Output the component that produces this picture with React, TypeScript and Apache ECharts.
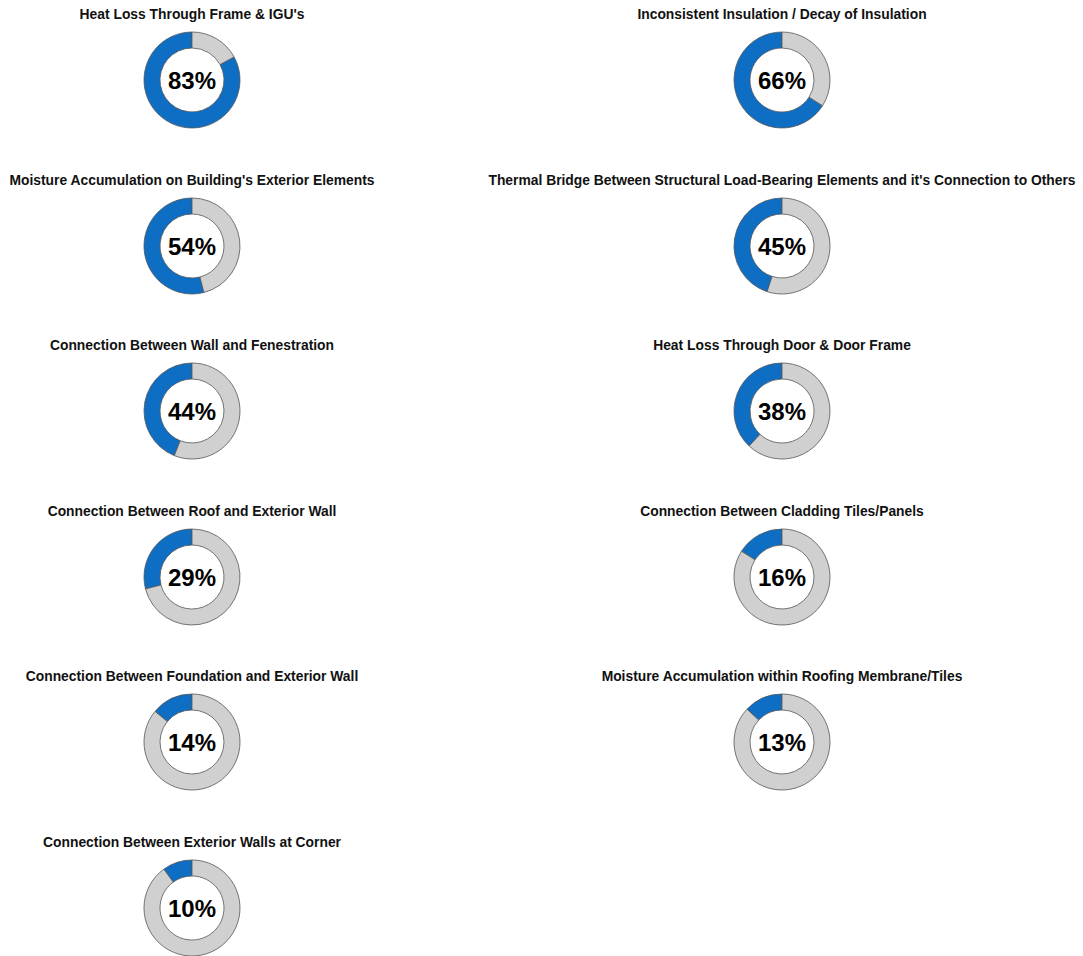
import React, { useEffect, useRef } from "react";
import * as echarts from "echarts";

const titles: string[] = [
  "Heat Loss Through Frame & IGU's",
  "Inconsistent Insulation / Decay of Insulation",
  "Moisture Accumulation on Building's Exterior Elements",
  "Thermal Bridge Between Structural Load-Bearing Elements and it's Connection to Others",
  "Connection Between Wall and Fenestration",
  "Heat Loss Through Door & Door Frame",
  "Connection Between Roof and Exterior Wall",
  "Connection Between Cladding Tiles/Panels",
  "Connection Between Foundation and Exterior Wall",
  "Moisture Accumulation within Roofing Membrane/Tiles",
  "Connection Between Exterior Walls at Corner",
];

const percents: number[] = [83, 66, 54, 45, 44, 38, 29, 16, 14, 13, 10];

const colX = [192, 782];
const rowY = [80, 246, 411, 577, 742, 908];

export default function App() {
  const ref = useRef<HTMLDivElement>(null);
  useEffect(() => {
    document.body.style.margin = "0";
    const chart = echarts.init(ref.current!, null, { renderer: "svg" });
    const title: any[] = [];
    const series: any[] = [];
    percents.forEach((p, i) => {
      const cx = colX[i % 2];
      const cy = rowY[Math.floor(i / 2)];
      title.push({
        text: titles[i],
        left: cx,
        top: cy - 73,
        padding: 0,
        textAlign: "center",
        textStyle: {
          fontFamily: "Liberation Sans, Arial, sans-serif",
          fontSize: 13.85,
          fontWeight: "bold",
          color: "#111",
        },
      });
      series.push({
        type: "pie",
        center: [cx, cy],
        radius: [32, 48],
        startAngle: 90,
        clockwise: false,
        silent: true,
        labelLine: { show: false },
        itemStyle: { borderColor: "#555555", borderWidth: 0.8 },
        data: [
          {
            value: p,
            itemStyle: { color: "#0d6ec4" },
            label: {
              show: true,
              position: "center",
              formatter: "{c}%",
              fontFamily: "Liberation Sans, Arial, sans-serif",
              fontSize: 24,
              fontWeight: "bold",
              color: "#000",
            },
          },
          {
            value: 100 - p,
            itemStyle: { color: "#d0d0d0" },
            label: { show: false },
          },
        ],
      });
    });
    chart.setOption({ animation: false, title, series });
    return () => chart.dispose();
  }, []);
  return <div ref={ref} style={{ width: 1083, height: 956, background: "#fff" }} />;
}
